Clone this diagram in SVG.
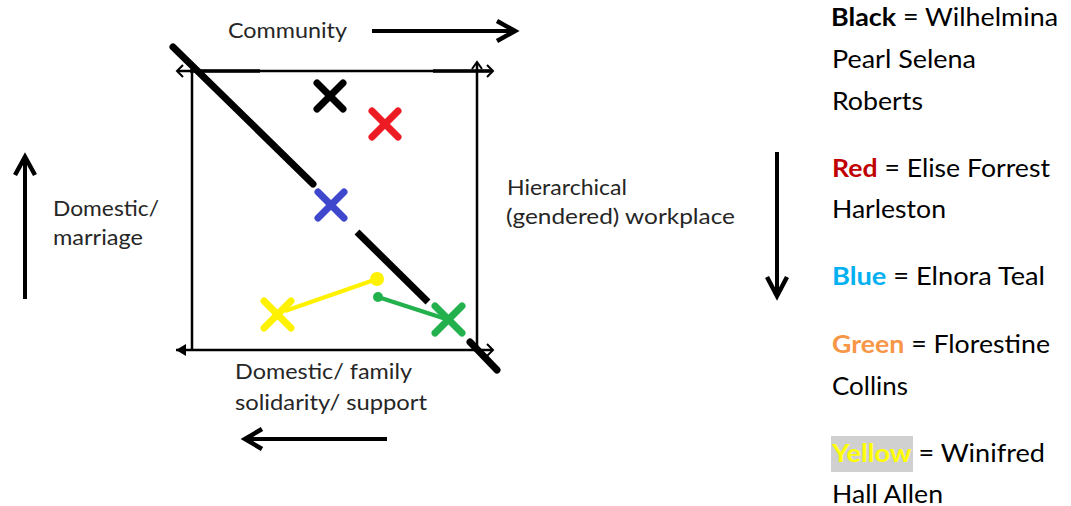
<svg xmlns="http://www.w3.org/2000/svg" width="1071" height="506" viewBox="0 0 1071 506">
  <defs>
    <style>
      .lbl { font-family: Lato, "Open Sans", "Liberation Sans", sans-serif; font-size: 21px; fill: #262626; }
      .key { font-family: Lato, "Open Sans", "Liberation Sans", sans-serif; font-size: 25px; fill: #000; }
      .b { font-weight: bold; }
      .axis { stroke: #000; stroke-width: 4; fill: none; stroke-linecap: butt; }
      .head { stroke: #000; stroke-width: 4.5; fill: none; stroke-linejoin: miter; }
      .frame { stroke: #000; stroke-width: 2.5; fill: none; }
      .tip { stroke: #000; stroke-width: 2; fill: none; }
      .diag { stroke: #000; stroke-width: 7; fill: none; }
      .mark { stroke-width: 7; stroke-linecap: round; fill: none; }
    </style>
  </defs>

  <rect width="1071" height="506" fill="#fff"/>

  <!-- quadrant frame -->
  <g id="frame">
    <line class="frame" x1="177" y1="71" x2="493" y2="71"/>
    <line class="frame" x1="192" y1="71" x2="192" y2="350"/>
    <line class="frame" x1="477" y1="63" x2="477" y2="350"/>
    <line class="frame" x1="176" y1="350" x2="493" y2="350"/>
    <line stroke="#000" stroke-width="3.5" x1="190" y1="71" x2="260" y2="71"/>
    <line stroke="#000" stroke-width="3.5" x1="433" y1="71" x2="490" y2="71"/>
    <!-- small corner arrowheads -->
    <polyline class="tip" points="183,65 177,71 183,77"/>
    <polyline class="tip" points="487,65 493,71 487,77"/>
    <polyline class="tip" points="472,69 477,62 482,69"/>
    <polygon points="176,350 186,344 186,356" fill="#000"/>
    <polyline class="tip" points="487,344 493,350 487,356"/>
  </g>

  <!-- diagonal divider -->
  <g id="diagonal">
    <line class="diag" stroke-linecap="round" x1="173" y1="47" x2="313" y2="184"/>
    <line class="diag" x1="357" y1="232" x2="428" y2="302"/>
    <line class="diag" stroke-linecap="round" x1="470" y1="342" x2="497" y2="370"/>
  </g>

  <!-- axis arrows -->
  <g id="arrow-top">
    <line class="axis" x1="372" y1="31" x2="514" y2="31"/>
    <polyline class="head" points="497,21 515,31 497,41"/>
  </g>
  <g id="arrow-left">
    <line class="axis" x1="25" y1="299" x2="25" y2="159"/>
    <polyline class="head" points="15,175 25,157 35,175"/>
  </g>
  <g id="arrow-right">
    <line class="axis" x1="777" y1="152" x2="777" y2="294"/>
    <polyline class="head" points="767,277 777,296 787,277"/>
  </g>
  <g id="arrow-bottom">
    <line class="axis" x1="387" y1="439" x2="246" y2="439"/>
    <polyline class="head" points="262,429 245,439 262,449"/>
  </g>

  <!-- axis labels -->
  <g id="label-community">
    <text class="lbl" x="228" y="38" textLength="119" lengthAdjust="spacingAndGlyphs">Community</text>
  </g>
  <g id="label-workplace">
    <text class="lbl" x="507" y="195" textLength="120" lengthAdjust="spacingAndGlyphs">Hierarchical</text>
    <text class="lbl" x="506" y="224" textLength="229" lengthAdjust="spacingAndGlyphs">(gendered) workplace</text>
  </g>
  <g id="label-marriage">
    <text class="lbl" x="53" y="216" textLength="106" lengthAdjust="spacingAndGlyphs">Domestic/</text>
    <text class="lbl" x="53" y="245" textLength="90" lengthAdjust="spacingAndGlyphs">marriage</text>
  </g>
  <g id="label-family">
    <text class="lbl" x="235" y="379" textLength="177" lengthAdjust="spacingAndGlyphs">Domestic/ family</text>
    <text class="lbl" x="235" y="410" textLength="192" lengthAdjust="spacingAndGlyphs">solidarity/ support</text>
  </g>

  <!-- movement connectors -->
  <g id="connectors">
    <line stroke="#fff200" stroke-width="4" x1="285" y1="311" x2="377" y2="279"/>
    <circle cx="377" cy="279" r="7" fill="#fff200"/>
    <line stroke="#22b14c" stroke-width="4" x1="378" y1="297" x2="449" y2="320"/>
    <circle cx="378" cy="297" r="5" fill="#22b14c"/>
  </g>

  <!-- position marks -->
  <g id="mark-black" class="mark" stroke="#000">
    <line x1="317" y1="83" x2="343" y2="109"/>
    <line x1="343" y1="83" x2="317" y2="109"/>
  </g>
  <g id="mark-red" class="mark" stroke="#ed1c24">
    <line x1="372" y1="111" x2="398" y2="137"/>
    <line x1="398" y1="111" x2="372" y2="137"/>
  </g>
  <g id="mark-blue" class="mark" stroke="#3f48cc">
    <line x1="318" y1="192" x2="344" y2="218"/>
    <line x1="344" y1="192" x2="318" y2="218"/>
  </g>
  <g id="mark-yellow" class="mark" stroke="#fff200">
    <line x1="264" y1="301" x2="291" y2="328"/>
    <line x1="291" y1="301" x2="264" y2="328"/>
  </g>
  <g id="mark-green" class="mark" stroke="#22b14c">
    <line x1="435" y1="306" x2="462" y2="333"/>
    <line x1="462" y1="306" x2="435" y2="333"/>
  </g>

  <!-- legend -->
  <g id="legend">
    <rect x="831" y="436" width="82" height="36" fill="#d0d0d0"/>
    <text class="key" x="831" y="26" textLength="227" lengthAdjust="spacingAndGlyphs"><tspan class="b">Black</tspan> = Wilhelmina</text>
    <text class="key" x="832" y="68" textLength="144" lengthAdjust="spacingAndGlyphs">Pearl Selena</text>
    <text class="key" x="832" y="110" textLength="91" lengthAdjust="spacingAndGlyphs">Roberts</text>
    <text class="key" x="832" y="177" textLength="218" lengthAdjust="spacingAndGlyphs"><tspan class="b" fill="#c00000">Red</tspan> = Elise Forrest</text>
    <text class="key" x="832" y="218" textLength="114" lengthAdjust="spacingAndGlyphs">Harleston</text>
    <text class="key" x="832" y="285" textLength="213" lengthAdjust="spacingAndGlyphs"><tspan class="b" fill="#00b0f0">Blue</tspan> = Elnora Teal</text>
    <text class="key" x="832" y="353" textLength="218" lengthAdjust="spacingAndGlyphs"><tspan class="b" fill="#f79646">Green</tspan> = Florestine</text>
    <text class="key" x="832" y="395" textLength="76" lengthAdjust="spacingAndGlyphs">Collins</text>
    <text class="key" x="832" y="462" textLength="213" lengthAdjust="spacingAndGlyphs"><tspan class="b" fill="#ffff00">Yellow</tspan> = Winifred</text>
    <text class="key" x="832" y="503" textLength="111" lengthAdjust="spacingAndGlyphs">Hall Allen</text>
  </g>
</svg>
